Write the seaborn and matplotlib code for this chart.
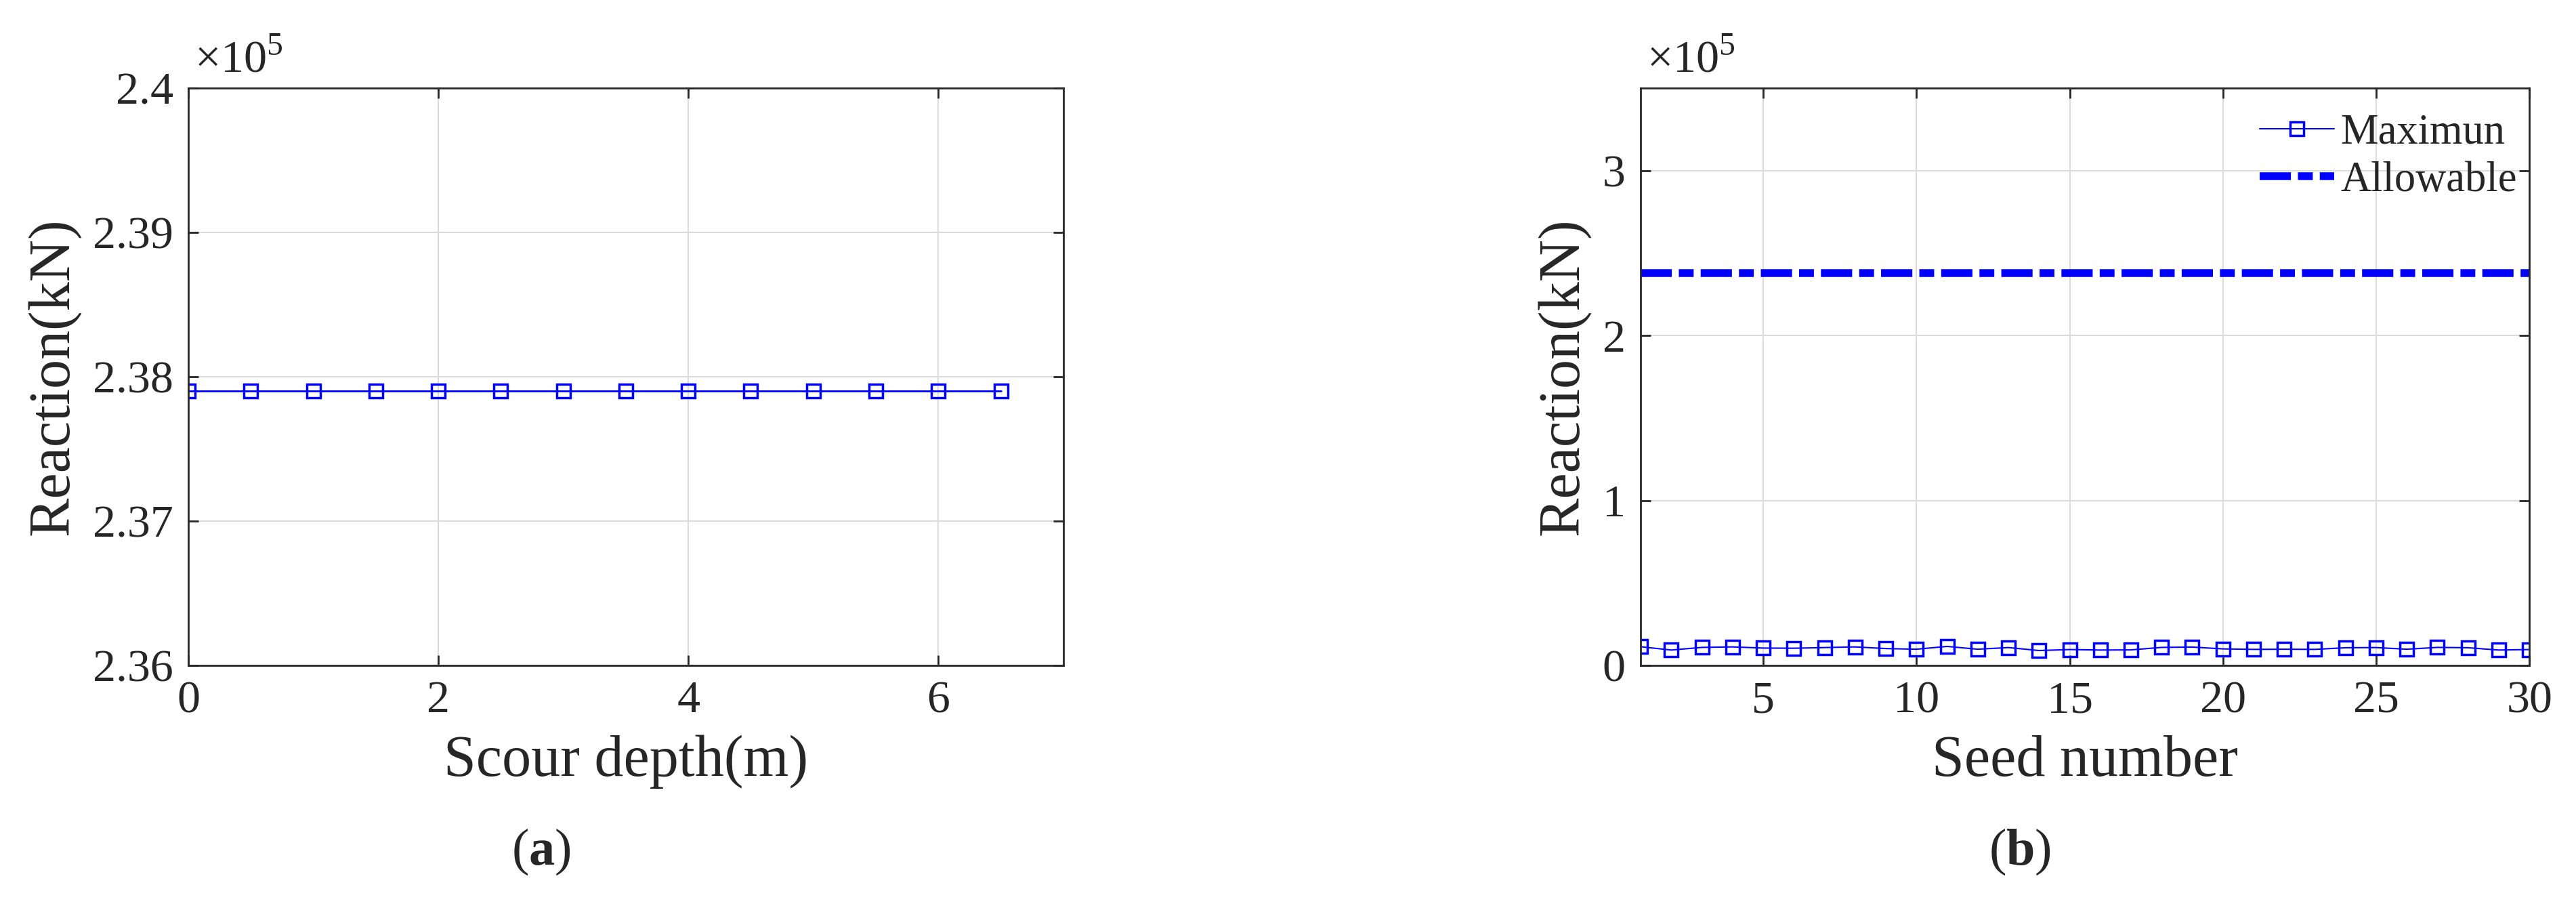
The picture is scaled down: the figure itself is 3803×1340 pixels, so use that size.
import matplotlib
matplotlib.use("Agg")
import matplotlib.pyplot as plt
import numpy as np
import pandas as pd
import seaborn as sns
from matplotlib.ticker import FuncFormatter

# data (reaction in kN)
scour_depth = [0, 0.5, 1, 1.5, 2, 2.5, 3, 3.5, 4, 4.5, 5, 5.5, 6, 6.5]
reaction_scour = [237900] * 14

seeds = list(range(1, 31))
reaction_max = [11300, 9300, 10900, 11200, 10500, 10400, 10800, 11200, 10200, 9800,
                11500, 9800, 10800, 9000, 9600, 9300, 9400, 10900, 11100, 10000,
                9700, 9800, 9700, 10700, 10800, 9800, 10900, 10700, 9300, 9600]
allowable_x = [1, 30]
allowable_y = [237900, 237900]

sns.set_style("ticks")
plt.rcParams["font.family"] = "serif"
plt.rcParams["font.serif"] = ["Liberation Serif"]
plt.rcParams["mathtext.fontset"] = "custom"
plt.rcParams["mathtext.rm"] = "Liberation Serif"
plt.rcParams["mathtext.bf"] = "Liberation Serif:bold"

text_col = "#262626"
blue = "#0000ff"
tick_fs = 49
label_fs = 62
serif = "Liberation Serif"

fig = plt.figure(figsize=(38.03, 13.40), dpi=100)
ax1 = fig.add_axes([0.0731, 0.2672, 0.3397, 0.6358])
ax2 = fig.add_axes([0.6369, 0.2672, 0.3450, 0.6358])

df_a = pd.DataFrame({"depth": scour_depth, "reaction": reaction_scour})
sns.lineplot(data=df_a, x="depth", y="reaction", ax=ax1, color=blue, lw=2,
             marker="s", markersize=14, markerfacecolor="none",
             markeredgecolor=blue, markeredgewidth=2.5)

df_b = pd.DataFrame({"seed": seeds, "reaction": reaction_max})
df_allow = pd.DataFrame({"seed": allowable_x, "reaction": allowable_y})
sns.lineplot(data=df_b, x="seed", y="reaction", ax=ax2, color=blue, lw=1.5,
             marker="s", markersize=14, markerfacecolor="none",
             markeredgecolor=blue, markeredgewidth=2.5, label="Maximun")
sns.lineplot(data=df_allow, x="seed", y="reaction", ax=ax2, color=blue, lw=8.3,
             linestyle=(0, (4, 0.9, 1.9, 0.9)), label="Allowable")

ax1.set_xlim(0, 7)
ax1.set_xticks([0, 2, 4, 6])
ax1.set_ylim(236000, 240000)
ax1.set_yticks([236000, 237000, 238000, 239000, 240000])
ax1.set_xlabel("Scour depth(m)", fontsize=label_fs, color=text_col, labelpad=14,
               fontfamily=serif)

ax2.set_xlim(1, 30)
ax2.set_xticks([5, 10, 15, 20, 25, 30])
ax2.set_ylim(0, 350000)
ax2.set_yticks([0, 100000, 200000, 300000])
ax2.set_xlabel("Seed number", fontsize=label_fs, color=text_col, labelpad=14,
               fontfamily=serif)

for ax in (ax1, ax2):
    ax.set_ylabel("Reaction(kN)", fontsize=label_fs, color=text_col, labelpad=12,
                  fontfamily=serif)
    ax.yaxis.set_major_formatter(FuncFormatter(lambda v, p: f"{v / 1e5:g}"))
    ax.grid(True, color="#dcdcdc", lw=1.5)
    ax.tick_params(direction="in", length=11, width=2, labelsize=tick_fs,
                   colors=text_col, pad=16, top=True, right=True)
    for lab in ax.get_xticklabels() + ax.get_yticklabels():
        lab.set_fontfamily(serif)
    for s in ax.spines.values():
        s.set_linewidth(2)
        s.set_color(text_col)
    ax.text(0.007, 1.027, "×10$^{5}$", transform=ax.transAxes, fontsize=tick_fs,
            color=text_col, ha="left", va="baseline", fontfamily=serif)

ax2.legend(loc="upper right", bbox_to_anchor=(1.005, 0.985), frameon=False,
           prop={"family": serif, "size": 45}, handlelength=1.75, numpoints=1,
           labelspacing=0.2, handletextpad=0.15, borderaxespad=0.0)

fig.text(0.21, 0.048, r"($\mathbf{a}$)", fontsize=55, ha="center", va="baseline",
         fontfamily=serif)
fig.text(0.784, 0.048, r"($\mathbf{b}$)", fontsize=55, ha="center", va="baseline",
         fontfamily=serif)

fig.savefig("out.png", dpi=100)
